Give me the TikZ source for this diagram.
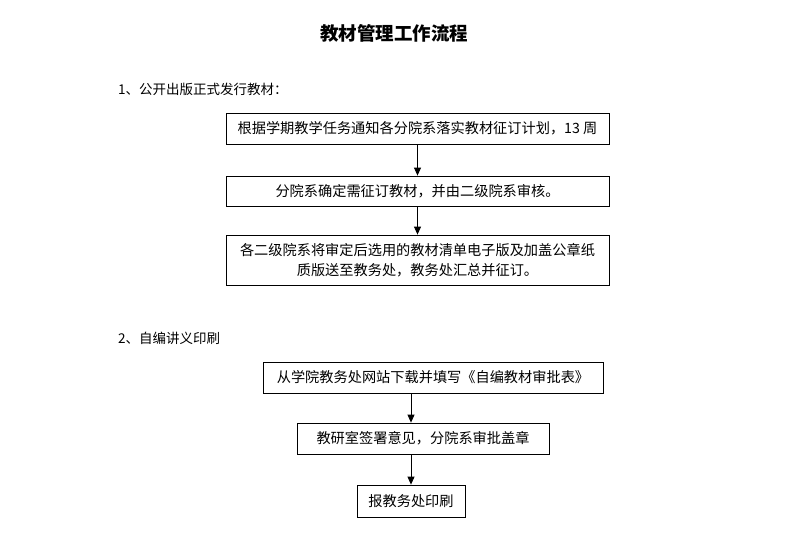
\documentclass[tikz,border=0pt]{standalone}
\usepackage{fontspec}
\setmainfont{Noto Sans CJK SC}
\usetikzlibrary{arrows.meta}
\begin{document}
\begin{tikzpicture}[x=1pt,y=-1pt,
    box/.style={draw,line width=0.8pt,minimum height=31pt,inner sep=0pt,
      align=center,font=\fontsize{14.2}{19.5}\selectfont},
    flow/.style={-{Triangle[length=8pt,width=7pt]},line width=0.8pt},
    head/.style={anchor=west,inner sep=0pt,font=\fontsize{13.5}{16}\selectfont}]
  \useasboundingbox (0,0) rectangle (788,546);

  % Coordinates
  \coordinate (title) at (394,33);
  \coordinate (partA) at (118,89);
  \coordinate (partB) at (118,338);

  % Title and headings
  \node[font=\fontsize{18.5}{20}\bfseries\selectfont] (titletext) at (title) {教材管理工作流程};
  \node[head] (headA) at (partA) {1、公开出版正式发行教材：};
  \node[head] (headB) at (partB) {2、自编讲义印刷};

  % Part 1. Three boxes of equal width, one under the other
  \node[box,minimum width=383pt] (plan) at (417.5,128.5)
    {根据学期教学任务通知各分院系落实教材征订计划，13 周};
  \node[box,minimum width=383pt,minimum height=30pt] (check) at (417.5,191)
    {分院系确定需征订教材，并由二级院系审核。};
  \node[box,minimum width=383pt,minimum height=50pt] (order) at (417.5,260)
    {各二级院系将审定后选用的教材清单电子版及加盖公章纸\\质版送至教务处，教务处汇总并征订。};

  % Part 2
  \node[box,minimum width=340pt] (form) at (433,377.5)
    {从学院教务处网站下载并填写《自编教材审批表》};
  \node[box,minimum width=252pt] (sign) at (423,438.5)
    {教研室签署意见，分院系审批盖章};
  \node[box,minimum width=108pt,minimum height=32pt] (print) at (411,501)
    {报教务处印刷};

  % Lines
  \draw[flow] (plan) -- (check);
  \draw[flow] (check) -- (order);
  \draw[flow] (form.south -| print) -- (sign.north -| print);
  \draw[flow] (sign.south -| print) -- (print);

\end{tikzpicture}
\end{document}
